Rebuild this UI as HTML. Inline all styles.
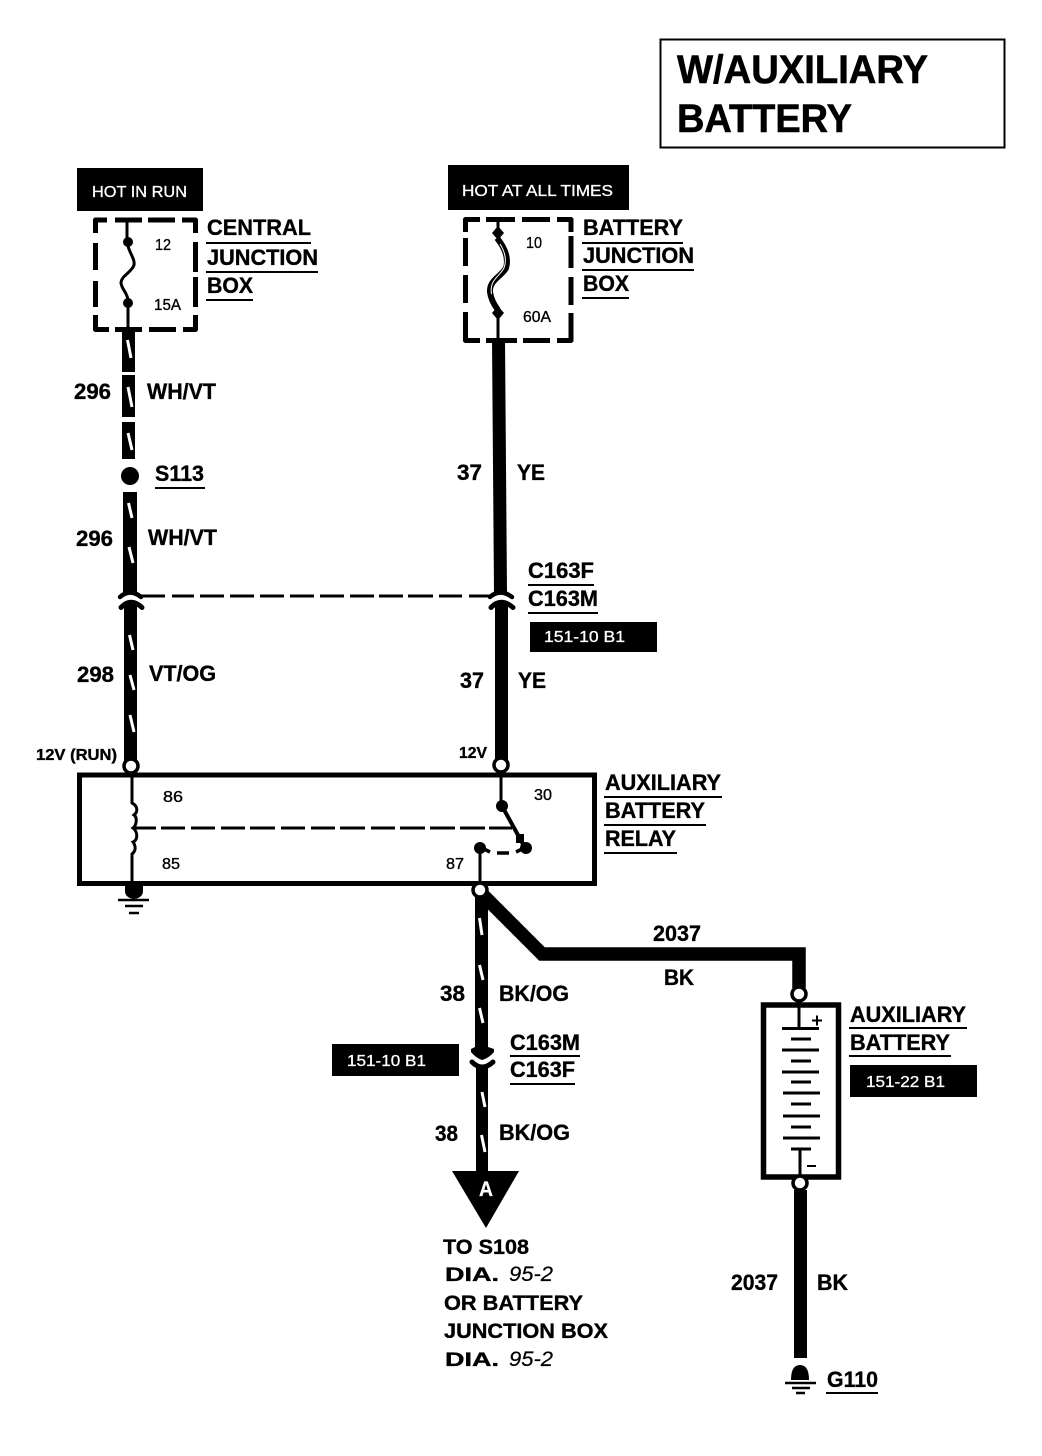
<!DOCTYPE html>
<html>
<head>
<meta charset="utf-8">
<style>
html,body{margin:0;padding:0;background:#fff}
svg{display:block}
text{font-family:"Liberation Sans",sans-serif;font-weight:bold;fill:#000;stroke:#000;stroke-width:.35}
.w{fill:#fff;font-weight:normal;stroke:#fff;stroke-width:.3}
.n{font-weight:normal;stroke:#000;stroke-width:.35}
.t{stroke:#fff;stroke-width:3;fill:none}
.u{stroke:#000;stroke-width:2;fill:none}
.d{stroke:#000;stroke-width:5;fill:none;stroke-linejoin:round}
.a{stroke:#000;fill:none;stroke-linecap:round}
</style>
</head>
<body>
<svg width="1042" height="1456" viewBox="0 0 1042 1456" xmlns="http://www.w3.org/2000/svg">
<rect width="1042" height="1456" fill="#fff"/>

<!-- title -->
<rect x="660.5" y="39.5" width="344" height="108" fill="none" stroke="#000" stroke-width="2"/>
<text x="677" y="83" font-size="40" style="stroke-width:.6" textLength="251" lengthAdjust="spacingAndGlyphs">W/AUXILIARY</text>
<text x="677" y="132" font-size="40" style="stroke-width:.6" textLength="175" lengthAdjust="spacingAndGlyphs">BATTERY</text>

<!-- hot labels -->
<rect x="77" y="168" width="126" height="43"/>
<text class="w" x="92" y="197" font-size="16" textLength="95" lengthAdjust="spacingAndGlyphs">HOT IN RUN</text>
<rect x="448" y="165" width="181" height="45"/>
<text class="w" x="462" y="196" font-size="16" textLength="151" lengthAdjust="spacingAndGlyphs">HOT AT ALL TIMES</text>

<!-- central junction box dashes -->
<path class="d" d="M107 220H95.500V233M115 220H142M148 220H175M182 220H195.500V233M95.500 243V270M95.500 281V307M195.500 242V272M195.500 277V307M95.500 315V329.500H109M115 329.500H142M149 329.500H176M183 329.500H195.500V315"/>
<path d="M127 222V240" stroke="#000" stroke-width="3" fill="none"/>
<circle cx="128" cy="242" r="5"/>
<path d="M128 246C130 254 135 259 134 265C132 272 121 276 121 283C122 290 127 292 128 300" stroke="#000" stroke-width="3" fill="none"/>
<circle cx="128" cy="303" r="5"/>
<path d="M128 305V330" stroke="#000" stroke-width="3" fill="none"/>
<text class="n" x="155" y="250" font-size="16" textLength="16" lengthAdjust="spacingAndGlyphs">12</text>
<text class="n" x="154" y="310" font-size="16" textLength="27" lengthAdjust="spacingAndGlyphs">15A</text>

<text x="207" y="235" font-size="22" textLength="104" lengthAdjust="spacingAndGlyphs">CENTRAL</text>
<path class="u" d="M206 243H311M206 272H318M206 300H253"/>
<text x="207" y="265" font-size="22" textLength="111" lengthAdjust="spacingAndGlyphs">JUNCTION</text>
<text x="207" y="293" font-size="22" textLength="46" lengthAdjust="spacingAndGlyphs">BOX</text>

<!-- battery junction box dashes -->
<path class="d" d="M480 219.500H465.500V232M486 219.500H515M522 219.500H550M557 219.500H571V232M465.500 238V266M465.500 275V303M571 236V268M571 277V305M465.500 312V340.500H480M486 340.500H517M523 340.500H550M557 340.500H571V313"/>
<path d="M498 222V232" stroke="#000" stroke-width="3"/>
<path d="M498 226l6 7l-6 7l-6-7zM498 306l6 7l-6 7l-6-7z"/>
<path d="M497 238C505 248 509 258 506 268C502 276 489 280 490 292C491 300 495 306 498 310" stroke="#000" stroke-width="6" fill="none"/>
<path d="M500 244C505 252 507 260 504 268C500 276 489 280 491.500 294" stroke="#fff" stroke-width="1" fill="none"/>
<path d="M498 318V340" stroke="#000" stroke-width="3"/>
<text class="n" x="526" y="248" font-size="16" textLength="16" lengthAdjust="spacingAndGlyphs">10</text>
<text class="n" x="523" y="322" font-size="16" textLength="28" lengthAdjust="spacingAndGlyphs">60A</text>

<text x="583" y="235" font-size="22" textLength="100" lengthAdjust="spacingAndGlyphs">BATTERY</text>
<path class="u" d="M582 243H683M582 270H694M582 298H629"/>
<text x="583" y="263" font-size="22" textLength="111" lengthAdjust="spacingAndGlyphs">JUNCTION</text>
<text x="583" y="291" font-size="22" textLength="46" lengthAdjust="spacingAndGlyphs">BOX</text>

<!-- left wire -->
<rect x="122" y="330" width="13" height="42"/>
<rect x="122" y="375" width="13" height="42"/>
<rect x="122" y="422" width="13" height="37"/>
<circle cx="130" cy="476" r="9"/>
<rect x="123" y="492" width="14" height="100"/>
<rect x="124" y="604" width="13" height="158"/>
<path class="t" d="M127.500 340L131 358M128 387L132 407M128 433L132 450M128.500 503L132 518M129 547L133 563M129.500 635L133 650M130 675L134 690M130 715L134 732"/>
<path d="M120 597Q130 588 141 597" class="a" stroke-width="4.500"/>
<path d="M121 607.500Q131 597 142 607.500" class="a" stroke-width="5"/>
<path d="M124 602Q131 600 137 602V608H124Z"/>
<circle cx="131" cy="766" r="7" fill="#fff" stroke="#000" stroke-width="3.500"/>

<text x="74" y="399" font-size="22" textLength="37" lengthAdjust="spacingAndGlyphs">296</text>
<text x="147" y="399" font-size="22" textLength="69" lengthAdjust="spacingAndGlyphs">WH/VT</text>
<text x="155" y="481" font-size="22" textLength="49" lengthAdjust="spacingAndGlyphs">S113</text>
<path class="u" d="M155 488H205"/>
<text x="76" y="546" font-size="22" textLength="37" lengthAdjust="spacingAndGlyphs">296</text>
<text x="148" y="545" font-size="22" textLength="69" lengthAdjust="spacingAndGlyphs">WH/VT</text>
<text x="77" y="682" font-size="22" textLength="37" lengthAdjust="spacingAndGlyphs">298</text>
<text x="149" y="681" font-size="22" textLength="67" lengthAdjust="spacingAndGlyphs">VT/OG</text>
<text x="36" y="760" font-size="15.500" textLength="81" lengthAdjust="spacingAndGlyphs">12V (RUN)</text>

<!-- dashed link -->
<path d="M140 596H165M172 596H194M200 596H224M230 596H254M260 596H284M290 596H314M320 596H344M350 596H374M379 596H403M408 596H433M439 596H462M469 596H492" stroke="#000" stroke-width="3" fill="none"/>

<!-- right wire -->
<path d="M492 340H505L507 592H494Z"/>
<path d="M490 597Q500 588 512 597" class="a" stroke-width="4.500"/>
<path d="M491 607.500Q501 597 513 607.500" class="a" stroke-width="5"/>
<path d="M495 602Q501 600 507 602V608H495Z"/>
<rect x="495" y="604" width="13" height="158"/>
<circle cx="501" cy="765" r="7" fill="#fff" stroke="#000" stroke-width="3.500"/>

<text x="457" y="480" font-size="22" textLength="25" lengthAdjust="spacingAndGlyphs">37</text>
<text x="517" y="480" font-size="22" textLength="28" lengthAdjust="spacingAndGlyphs">YE</text>
<text x="528" y="578" font-size="22" textLength="66" lengthAdjust="spacingAndGlyphs">C163F</text>
<path class="u" d="M528 585H594M528 613H598"/>
<text x="528" y="606" font-size="22" textLength="70" lengthAdjust="spacingAndGlyphs">C163M</text>
<rect x="530" y="622" width="127" height="30"/>
<text class="w" x="544" y="642" font-size="15.500" textLength="81" lengthAdjust="spacingAndGlyphs">151-10 B1</text>
<text x="460" y="688" font-size="22" textLength="24" lengthAdjust="spacingAndGlyphs">37</text>
<text x="518" y="688" font-size="22" textLength="28" lengthAdjust="spacingAndGlyphs">YE</text>
<text x="459" y="758" font-size="15.500" textLength="28" lengthAdjust="spacingAndGlyphs">12V</text>

<!-- relay -->
<rect x="79.500" y="775" width="515" height="108.500" fill="none" stroke="#000" stroke-width="5"/>
<path d="M132 776V803C138 806 138 812 134 815C138 818 136 826 133 828C138 832 138 840 133 842C136 846 136 851 132 854V882" stroke="#000" stroke-width="3" fill="none"/>
<path d="M135 828H156M161 828H185M191 828H215M221 828H245M250 828H275M281 828H305M311 828H335M340 828H365M371 828H395M400 828H425M430 828H455M460 828H485M489 828H512" stroke="#000" stroke-width="3" fill="none"/>
<path d="M501 776V806" stroke="#000" stroke-width="3"/>
<circle cx="502" cy="806" r="6"/>
<path d="M502 806L524 846" stroke="#000" stroke-width="4"/>
<rect x="516" y="834" width="8" height="9"/>
<circle cx="526" cy="848" r="6"/>
<circle cx="480" cy="848" r="6"/>
<path d="M484 849L490 852M497 853H509M516 852L522 849" stroke="#000" stroke-width="3.500"/>
<path d="M480 848V886" stroke="#000" stroke-width="3"/>
<text class="n" x="163" y="802" font-size="15.500" textLength="20" lengthAdjust="spacingAndGlyphs">86</text>
<text class="n" x="162" y="869" font-size="15.500" textLength="18" lengthAdjust="spacingAndGlyphs">85</text>
<text class="n" x="534" y="800" font-size="15.500" textLength="18" lengthAdjust="spacingAndGlyphs">30</text>
<text class="n" x="446" y="869" font-size="15.500" textLength="18" lengthAdjust="spacingAndGlyphs">87</text>
<text x="605" y="790" font-size="22" textLength="116" lengthAdjust="spacingAndGlyphs">AUXILIARY</text>
<path class="u" d="M604 797H722M604 825H706M604 853H677"/>
<text x="605" y="818" font-size="22" textLength="100" lengthAdjust="spacingAndGlyphs">BATTERY</text>
<text x="605" y="846" font-size="22" textLength="71" lengthAdjust="spacingAndGlyphs">RELAY</text>

<!-- relay ground -->
<path d="M125 886H143V892Q142 898 134 899Q126 898 125 892Z"/>
<path d="M118 900H149M125 906H143M129 913H139" stroke="#000" stroke-width="2.500"/>

<!-- output wires -->
<path d="M480 892L542 954H799V988" stroke="#000" stroke-width="13.500" fill="none"/>
<rect x="475" y="892" width="13" height="157"/>
<circle cx="480" cy="890" r="7" fill="#fff" stroke="#000" stroke-width="3.500"/>
<path class="t" d="M479.500 918L482 935M479.500 965L483 980M479.500 1008L483 1023"/>
<path d="M475 1047L471 1049V1052Q476 1058 482 1060Q489 1058 494 1052V1049L488 1047Z"/>
<path d="M472 1062Q482 1072 493 1062" class="a" stroke-width="5"/>
<rect x="476" y="1068" width="12" height="107"/>
<path class="t" d="M482 1092L485 1107M481.500 1135L485 1152"/>
<path d="M452 1171H519L486 1228Z"/>
<text class="w" x="479" y="1196" font-size="21" textLength="14" lengthAdjust="spacingAndGlyphs" style="font-weight:bold">A</text>

<text x="653" y="941" font-size="22" textLength="48" lengthAdjust="spacingAndGlyphs">2037</text>
<text x="664" y="985" font-size="22" textLength="30" lengthAdjust="spacingAndGlyphs">BK</text>
<text x="440" y="1001" font-size="22" textLength="25" lengthAdjust="spacingAndGlyphs">38</text>
<text x="499" y="1001" font-size="22" textLength="70" lengthAdjust="spacingAndGlyphs">BK/OG</text>
<text x="510" y="1050" font-size="22" textLength="70" lengthAdjust="spacingAndGlyphs">C163M</text>
<path class="u" d="M510 1056H580M510 1084H575"/>
<text x="510" y="1077" font-size="22" textLength="65" lengthAdjust="spacingAndGlyphs">C163F</text>
<rect x="332" y="1044" width="127" height="32"/>
<text class="w" x="347" y="1066" font-size="15.500" textLength="79" lengthAdjust="spacingAndGlyphs">151-10 B1</text>
<text x="435" y="1141" font-size="22" textLength="23" lengthAdjust="spacingAndGlyphs">38</text>
<text x="499" y="1140" font-size="22" textLength="71" lengthAdjust="spacingAndGlyphs">BK/OG</text>

<!-- bottom note -->
<text x="443" y="1254" font-size="21" textLength="86" lengthAdjust="spacingAndGlyphs">TO S108</text>
<text x="445" y="1281" font-size="19" textLength="54" lengthAdjust="spacingAndGlyphs">DIA.</text>
<text x="509" y="1281" font-size="21" font-style="italic" style="font-weight:normal;stroke-width:.2" textLength="44" lengthAdjust="spacingAndGlyphs">95-2</text>
<text x="444" y="1310" font-size="21" textLength="139" lengthAdjust="spacingAndGlyphs">OR BATTERY</text>
<text x="444" y="1338" font-size="21" textLength="164" lengthAdjust="spacingAndGlyphs">JUNCTION BOX</text>
<text x="445" y="1366" font-size="19" textLength="54" lengthAdjust="spacingAndGlyphs">DIA.</text>
<text x="509" y="1366" font-size="21" font-style="italic" style="font-weight:normal;stroke-width:.2" textLength="44" lengthAdjust="spacingAndGlyphs">95-2</text>

<!-- battery -->
<circle cx="799" cy="994" r="7" fill="#fff" stroke="#000" stroke-width="3.500"/>
<rect x="763.500" y="1005" width="75" height="172" fill="none" stroke="#000" stroke-width="5.500"/>
<path d="M799 1007V1028" stroke="#000" stroke-width="3"/>
<path d="M782 1028.500H819M782 1050H819M782 1072H819M783 1093H820M783 1116H820M783 1138H820" stroke="#000" stroke-width="3"/>
<path d="M791 1039H811M791 1061H811M791 1082H811M791 1104H811M791 1127H811M791 1149H811" stroke="#000" stroke-width="3"/>
<path d="M800 1149V1175" stroke="#000" stroke-width="3"/>
<path d="M812 1020.500H822M817 1015.500V1025.500M807 1166H816" stroke="#000" stroke-width="2"/>
<circle cx="800" cy="1183" r="7" fill="#fff" stroke="#000" stroke-width="3.500"/>
<rect x="794" y="1190" width="13" height="168"/>
<text x="850" y="1022" font-size="22" textLength="116" lengthAdjust="spacingAndGlyphs">AUXILIARY</text>
<path class="u" d="M849 1028H967M849 1056H951"/>
<text x="850" y="1050" font-size="22" textLength="100" lengthAdjust="spacingAndGlyphs">BATTERY</text>
<rect x="850" y="1065" width="127" height="32"/>
<text class="w" x="866" y="1087" font-size="15.500" textLength="79" lengthAdjust="spacingAndGlyphs">151-22 B1</text>
<text x="731" y="1290" font-size="22" textLength="47" lengthAdjust="spacingAndGlyphs">2037</text>
<text x="817" y="1290" font-size="22" textLength="31" lengthAdjust="spacingAndGlyphs">BK</text>

<!-- G110 -->
<path d="M791 1380Q791 1365 800 1365Q809 1365 809 1380Z"/>
<path d="M785 1383H816M792 1388H810M796 1393H805" stroke="#000" stroke-width="2.500"/>
<text x="827" y="1387" font-size="22" textLength="51" lengthAdjust="spacingAndGlyphs">G110</text>
<path class="u" d="M826 1393H878"/>
</svg>
</body>
</html>
